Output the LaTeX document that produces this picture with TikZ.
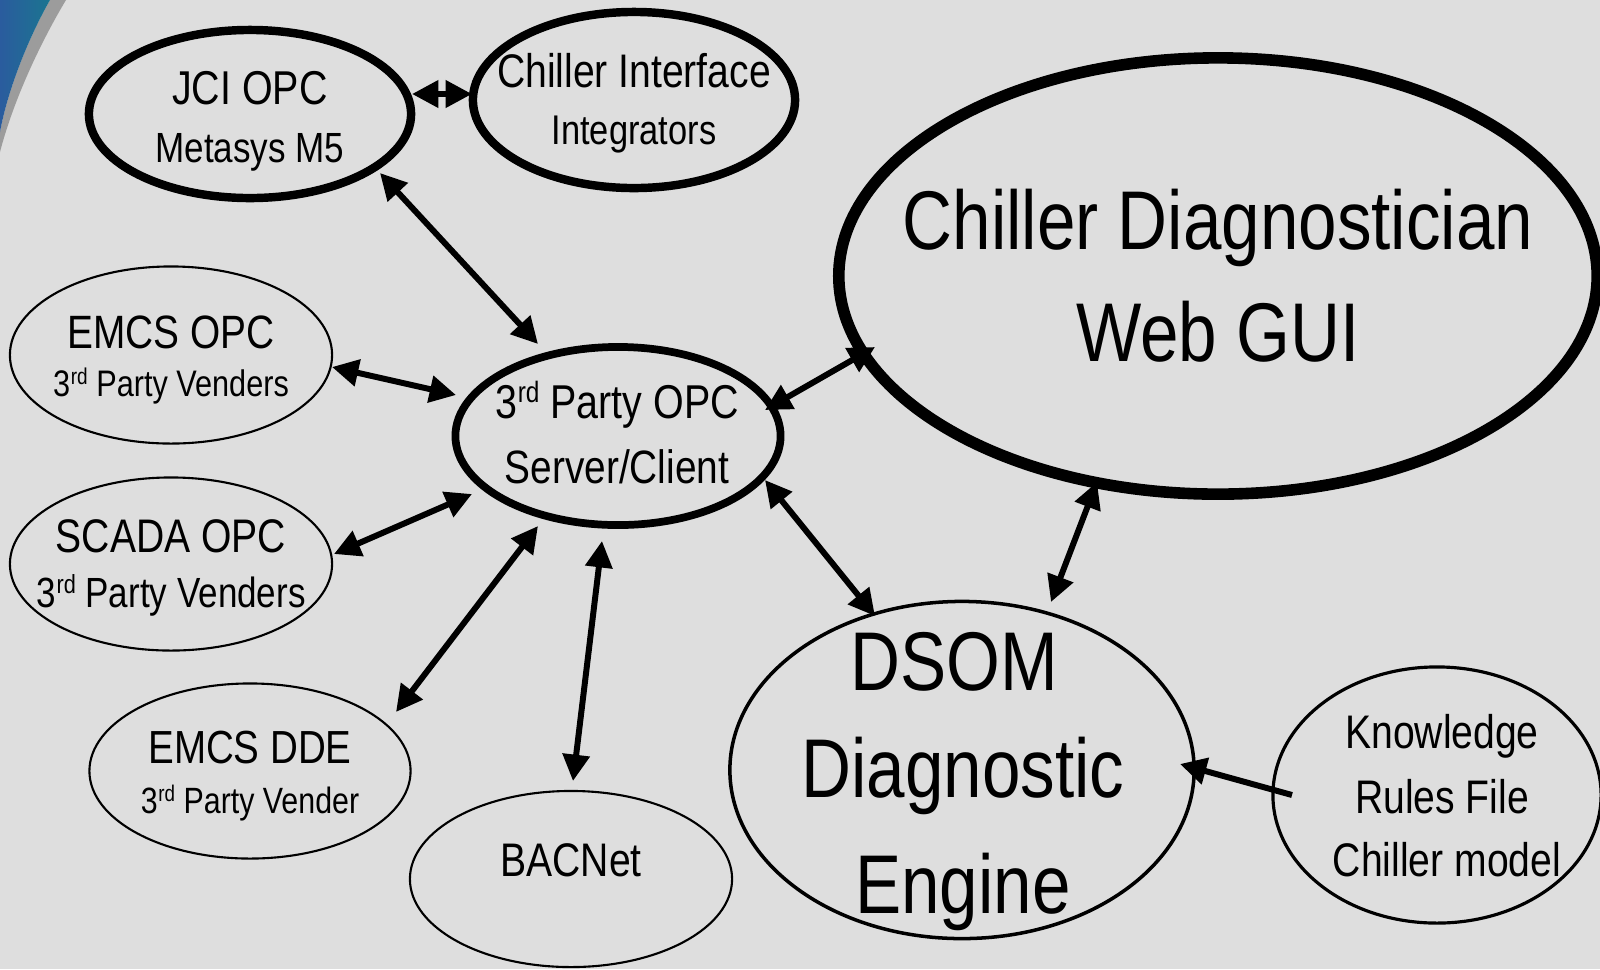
\documentclass[tikz,border=0pt]{standalone}
\usepackage{fontspec}
\usepackage{graphicx}
\setmainfont{Liberation Sans}[FakeStretch=0.83]
\usetikzlibrary{arrows.meta,shapes.geometric}
\definecolor{bgc}{HTML}{DEDEDE}
\definecolor{swA}{HTML}{1B7590}
\definecolor{swB}{HTML}{2A5C9E}
\newcommand{\fs}[1]{\fontsize{#1pt}{#1pt}\selectfont}
\newcommand{\rdsup}{\kern0.2pt\raisebox{0.62ex}{\scalebox{0.62}{rd}}}
\tikzset{
  x=0.01cm, y=-0.01cm,
  ell/.style={ellipse, draw=black, inner sep=0pt, outer sep=0pt},
  thick ell/.style={ell, line width=2.4pt},
  thin ell/.style={ell, line width=0.6pt},
  txt/.style={inner sep=0pt, text=black},
  conn/.style={line width=1.7pt, {Triangle[length=7.5pt,width=7.5pt]}-{Triangle[length=7.5pt,width=7.5pt]}},
  oneway/.style={line width=1.7pt, -{Triangle[length=7.5pt,width=7.5pt]}},
}
\begin{document}
\begin{tikzpicture}
\fill[bgc] (0,0) rectangle (1600,969);
\useasboundingbox (0,0) rectangle (1600,969);
% swoosh
\fill[gray!70!bgc] (50,0) -- (66,0) .. controls (42,40) and (14,98) .. (0,152) -- (0,132) .. controls (8,88) and (30,35) .. (50,0) -- cycle;
\shade[left color=swB, right color=swA] (0,0) -- (50,0) .. controls (30,35) and (8,88) .. (0,132) -- cycle;

% ellipses
\node[thick ell, minimum width=3.22cm, minimum height=1.68cm] (jci) at (250,114) {};
\node[thick ell, minimum width=3.22cm, minimum height=1.76cm] (ci) at (634,100) {};
\node[ell, line width=3.3pt, minimum width=7.58cm, minimum height=4.36cm] (gui) at (1218,276) {};
\node[thin ell, minimum width=3.22cm, minimum height=1.77cm] (emcs) at (171,355) {};
\node[ell, line width=2.2pt, minimum width=3.25cm, minimum height=1.78cm] (opc) at (618,436) {};
\node[thin ell, minimum width=3.22cm, minimum height=1.73cm] (scada) at (171,564) {};
\node[thin ell, minimum width=3.21cm, minimum height=1.75cm] (dde) at (250,771) {};
\node[thin ell, minimum width=3.22cm, minimum height=1.76cm] (bac) at (571,879) {};
\node[ell, line width=1pt, minimum width=4.64cm, minimum height=3.37cm] (dsom) at (962,770) {};
\node[ell, line width=0.9pt, minimum width=3.28cm, minimum height=2.56cm] (kn) at (1437,795) {};

% texts
\node[txt] (t1) at (250,88) {\fs{13.5}JCI OPC};
\node[txt] (t2) at (250,152) {\fs{12}Metasys M5};
\node[txt] (t3) at (634,71) {\fs{13.4}Chiller Interface};
\node[txt] (t4) at (634,135) {\fs{11.8}Integrators};
\node[txt] (t5) at (1218,228) {\fs{23.7}Chiller Diagnostician};
\node[txt] (t6) at (1218,332) {\fs{23.7}Web GUI};
\node[txt] (t7) at (171,332) {\fs{13.3}EMCS OPC};
\node[txt] (t8) at (171,386) {\fs{10.5}3\rdsup{} Party Venders};
\node[txt] (t9) at (617,405) {\fs{13.5}3\rdsup{} Party OPC};
\node[txt] (t10) at (617,467) {\fs{13.3}Server/Client};
\node[txt] (t11) at (171,536) {\fs{13.4}SCADA OPC};
\node[txt] (t12) at (171,595) {\fs{12}3\rdsup{} Party Venders};
\node[txt] (t13) at (250,748) {\fs{13.2}EMCS DDE};
\node[txt] (t14) at (250,803) {\fs{10.4}3\rdsup{} Party Vender};
\node[txt] (t15) at (571,860) {\fs{13.4}BACNet};
\node[txt] (t16) at (954,662) {\fs{23.7}DSOM};
\node[txt] (t17) at (963,776) {\fs{23.7}Diagnostic};
\node[txt] (t18) at (963,892) {\fs{23.7}Engine};
\node[txt] (t19) at (1442,736) {\fs{13.4}Knowledge};
\node[txt] (t20) at (1442,797) {\fs{13.4}Rules File};
\node[txt] (t21) at (1447,860) {\fs{13.4}Chiller model};

% connectors
\draw[conn] ([shift={(162,-20)}]jci.center) -- ([shift={(-162,-6)}]ci.center);
\draw[conn] ([shift={(130,59)}]jci.center) -- ([shift={(-80,-92)}]opc.center);
\draw[conn] ([shift={(161,12)}]emcs.center) -- ([shift={(-162,-41)}]opc.center);
\draw[conn] ([shift={(163,-10)}]scada.center) -- ([shift={(-146,58)}]opc.center);
\draw[conn] ([shift={(146,-59)}]dde.center) -- ([shift={(-80,90)}]opc.center);
\draw[conn] ([shift={(2,-98)}]bac.center) -- ([shift={(-16,105)}]opc.center);
\draw[conn] ([shift={(147,-26)}]opc.center) -- ([shift={(-343,71)}]gui.center);
\draw[conn] ([shift={(147,44)}]opc.center) -- ([shift={(-87,-154)}]dsom.center);
\draw[conn] ([shift={(-121,206)}]gui.center) -- ([shift={(89,-168)}]dsom.center);
\draw[oneway] ([shift={(-145,0)}]kn.center) -- ([shift={(218,-6)}]dsom.center);
\end{tikzpicture}
\end{document}
